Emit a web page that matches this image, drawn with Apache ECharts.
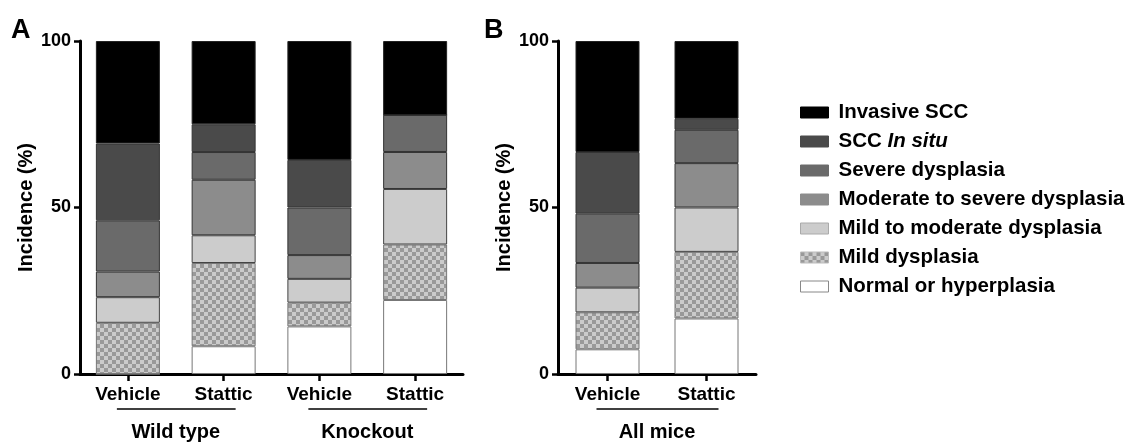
<!DOCTYPE html>
<html>
<head>
<meta charset="utf-8">
<script src="https://cdn.jsdelivr.net/npm/echarts@6/dist/echarts.min.js"></script>
<style>
html,body{margin:0;padding:0;background:#fff;}
#chart{width:1131px;height:442px;}
</style>
</head>
<body>
<div id="chart"></div>
<script>
// ---- data ----
const categoriesA = ['Vehicle', 'Stattic', 'Vehicle', 'Stattic'];
const categoriesB = ['Vehicle', 'Stattic'];
const groupsA = ['Wild type', 'Knockout'];
const groupsB = ['All mice'];
const yTicks = [0, 50, 100];
const stageNames = ['Normal or hyperplasia', 'Mild dysplasia', 'Mild to moderate dysplasia',
  'Moderate to severe dysplasia', 'Severe dysplasia', 'SCC In situ', 'Invasive SCC'];

// Panel A (Wild type Vehicle, Wild type Stattic, Knockout Vehicle, Knockout Stattic)
const normalA   = [0,     8.33, 14.29, 22.22];
const mildA     = [15.38, 25.00, 7.14, 16.67];
const mildModA  = [7.69,  8.33,  7.14, 16.67];
const modSevA   = [7.69, 16.67,  7.14, 11.11];
const severeA   = [15.38, 8.33, 14.29, 11.11];
const inSituA   = [23.08, 8.33, 14.29, 0];
const invasiveA = [30.77, 25.00, 35.71, 22.22];

// Panel B (All mice Vehicle, All mice Stattic)
const normalB   = [7.41, 16.67];
const mildB     = [11.11, 20.00];
const mildModB  = [7.41, 13.33];
const modSevB   = [7.41, 13.33];
const severeB   = [14.81, 10.00];
const inSituB   = [18.52, 3.33];
const invasiveB = [33.33, 23.33];

const seriesA = [normalA, mildA, mildModA, modSevA, severeA, inSituA, invasiveA];
const seriesB = [normalB, mildB, mildModB, modSevB, severeB, inSituB, invasiveB];

// ---- styles ----
const FONT = "'Liberation Sans', Arial, Helvetica, sans-serif";
const checker = document.createElement('canvas');
checker.width = 8; checker.height = 8;
(function(){
  const c = checker.getContext('2d');
  c.fillStyle = '#cbcbcb'; c.fillRect(0,0,8,8);
  c.fillStyle = '#999999'; c.fillRect(0,0,4,4); c.fillRect(4,4,4,4);
})();
const fills = ['#ffffff', {image: checker, repeat: 'repeat'}, '#cccccc', '#8c8c8c', '#6a6a6a', '#4a4a4a', '#000000'];
const borders = ['#777777', '#777777', '#444444', '#333333', '#333333', '#333333', '#222222'];
const legendBorders = ['#888888', '#bbbbbb', '#aaaaaa', '#8c8c8c', '#6a6a6a', '#4a4a4a', '#000000'];

const chart = echarts.init(document.getElementById('chart'), null, {renderer: 'canvas'});

function yAxis(gridIndex) {
  return {
    type: 'value', gridIndex: gridIndex, min: 0, max: 100, interval: 50,
    name: 'Incidence (%)', nameLocation: 'middle', nameGap: 44,
    nameTextStyle: {fontFamily: FONT, fontWeight: 'bold', fontSize: 20, color: '#000'},
    axisLine: {show: true, lineStyle: {color: '#000', width: 3}},
    axisTick: {show: true, length: 6, lineStyle: {color: '#000', width: 2.5}},
    axisLabel: {fontFamily: FONT, fontWeight: 'bold', fontSize: 18, color: '#000', margin: 9,
      formatter: v => yTicks.includes(v) ? String(v) : ''},
    splitLine: {show: false}
  };
}
function xAxis(gridIndex, cats) {
  return {
    type: 'category', gridIndex: gridIndex, data: cats,
    axisLine: {show: true, lineStyle: {color: '#000', width: 3}},
    axisTick: {show: true, alignWithLabel: true, length: 7, lineStyle: {color: '#000', width: 2.5}},
    axisLabel: {fontFamily: FONT, fontWeight: 'bold', fontSize: 19, color: '#000', margin: 11, interval: 0}
  };
}

const series = [];
seriesA.forEach((d, i) => series.push({
  name: stageNames[i], type: 'bar', stack: 'A', xAxisIndex: 0, yAxisIndex: 0, data: d,
  barWidth: 64, itemStyle: {color: fills[i], borderColor: borders[i], borderWidth: 1}
}));
seriesB.forEach((d, i) => series.push({
  name: stageNames[i], type: 'bar', stack: 'B', xAxisIndex: 1, yAxisIndex: 1, data: d,
  barWidth: 64, itemStyle: {color: fills[i], borderColor: borders[i], borderWidth: 1}
}));

const legendData = stageNames.map((n, i) => ({
  name: n, itemStyle: {borderColor: legendBorders[i], borderWidth: 1}
})).reverse();

const option = {
  animation: false,
  backgroundColor: '#fff',
  grid: [
    {left: 80, top: 41, width: 383, height: 333},
    {left: 558, top: 41, width: 198, height: 333}
  ],
  xAxis: [xAxis(0, categoriesA), xAxis(1, categoriesB)],
  yAxis: [yAxis(0), yAxis(1)],
  legend: {
    orient: 'vertical', left: 795, top: 97, itemWidth: 28, itemHeight: 11, itemGap: 8,
    icon: 'rect', selectedMode: false,
    data: legendData,
    formatter: name => name === 'SCC In situ' ? '{n|SCC }{i|In situ}' : '{n|' + name + '}',
    textStyle: {
      fontFamily: FONT, fontWeight: 'bold', fontSize: 20.5, color: '#000', padding: [0, 0, 0, 5],
      rich: {
        n: {fontFamily: FONT, fontWeight: 'bold', fontSize: 20.5, lineHeight: 20, color: '#000'},
        i: {fontFamily: FONT, fontWeight: 'bold', fontStyle: 'italic', fontSize: 20.5, lineHeight: 20, color: '#000'}
      }
    }
  },
  series: series
};
chart.setOption(option);

// group underlines and labels, positioned from the axes
function groupGraphics(xIdx, yIdx, groups) {
  const els = [];
  const yPix = chart.convertToPixel({yAxisIndex: yIdx}, 0);
  groups.forEach((g, k) => {
    const x1 = chart.convertToPixel({xAxisIndex: xIdx}, 2 * k);
    const x2 = chart.convertToPixel({xAxisIndex: xIdx}, 2 * k + 1);
    els.push({type: 'line', shape: {x1: x1 - 11, y1: yPix + 35, x2: x2 + 12, y2: yPix + 35},
      style: {stroke: '#000', lineWidth: 1.5}});
    els.push({type: 'text', x: (x1 + x2) / 2, y: yPix + 58,
      style: {text: g, fill: '#000', font: 'bold 20px ' + FONT, textAlign: 'center', textVerticalAlign: 'middle'}});
  });
  return els;
}
const graphics = [].concat(
  groupGraphics(0, 0, groupsA),
  groupGraphics(1, 1, groupsB),
  [
    {type: 'text', x: 11, y: 31, style: {text: 'A', fill: '#000', font: 'bold 27px ' + FONT, textVerticalAlign: 'middle'}},
    {type: 'text', x: 484, y: 31, style: {text: 'B', fill: '#000', font: 'bold 27px ' + FONT, textVerticalAlign: 'middle'}}
  ]
);
chart.setOption({graphic: graphics});
</script>
</body>
</html>
